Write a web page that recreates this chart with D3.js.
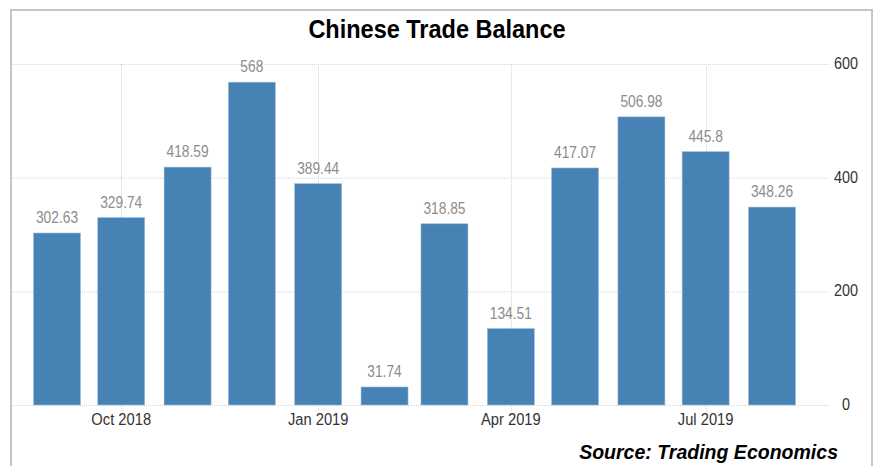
<!DOCTYPE html>
<html>
<head>
<meta charset="utf-8">
<script src="https://cdn.jsdelivr.net/npm/d3@7"></script>
<style>
  html, body { margin: 0; padding: 0; background: #fff; }
  svg { display: block; }
</style>
</head>
<body>
<svg id="chart" width="877" height="466"></svg>
<script>
// ---- data ----
const months = ["2018-09","2018-10","2018-11","2018-12","2019-01","2019-02","2019-03","2019-04","2019-05","2019-06","2019-07","2019-08"];
const values = [302.63, 329.74, 418.59, 568, 389.44, 31.74, 318.85, 134.51, 417.07, 506.98, 445.8, 348.26];
const valueLabels = ["302.63","329.74","418.59","568","389.44","31.74","318.85","134.51","417.07","506.98","445.8","348.26"];
const xTickMonths = ["2018-10","2019-01","2019-04","2019-07"];
const xTickLabels = ["Oct 2018","Jan 2019","Apr 2019","Jul 2019"];
const yTicks = [0, 200, 400, 600];
const titleText = "Chinese Trade Balance";
const sourceText = "Source: Trading Economics";

const parse = d3.timeParse("%Y-%m");
const dates = months.map(parse);
const FONT = "'Liberation Sans', Arial, sans-serif";

const svg = d3.select("#chart");

// outer frame (open at the bottom)
svg.append("path")
  .attr("d", "M11,466 L11,10 L872,10 L872,466")
  .attr("fill", "none")
  .attr("stroke", "#c6c6c6")
  .attr("stroke-width", 2);

const x = d3.scaleTime()
  .domain([dates[0], dates[dates.length - 1]])
  .range([57, 772]);
const y = d3.scaleLinear().domain([0, 600]).range([405, 64]);

const gridColor = "#d6d6d6";

// horizontal grid
svg.append("g").selectAll("line").data(yTicks).join("line")
  .attr("x1", 12).attr("x2", 830)
  .attr("y1", d => y(d) + 0.5).attr("y2", d => y(d) + 0.5)
  .attr("stroke", gridColor).attr("stroke-width", 1)
  .attr("stroke-dasharray", "1,1");

// vertical grid
const tickDates = xTickMonths.map(parse);
svg.append("g").selectAll("line").data(tickDates).join("line")
  .attr("x1", d => Math.round(x(d)) + 0.5).attr("x2", d => Math.round(x(d)) + 0.5)
  .attr("y1", 64).attr("y2", 411)
  .attr("stroke", gridColor).attr("stroke-width", 1)
  .attr("stroke-dasharray", "1,1");

// bars
const bw = 47;
svg.append("g").selectAll("rect").data(values).join("rect")
  .attr("x", (d, i) => x(dates[i]) - bw / 2)
  .attr("y", d => y(d))
  .attr("width", bw)
  .attr("height", d => y(0) - y(d))
  .attr("fill", "#4682b4")
  .attr("stroke", "#9cc0de")
  .attr("stroke-width", 0.6);

// value labels (condensed look)
svg.append("g").selectAll("text").data(values).join("text")
  .attr("transform", (d, i) => `translate(${x(dates[i])},${y(d) - 10}) scale(0.86,1)`)
  .attr("text-anchor", "middle")
  .attr("font-family", FONT)
  .attr("font-size", 16)
  .attr("fill", "#8c8c8c")
  .text((d, i) => valueLabels[i]);

// x axis labels
svg.append("g").selectAll("text").data(tickDates).join("text")
  .attr("transform", d => `translate(${x(d)},425) scale(0.92,1)`)
  .attr("text-anchor", "middle")
  .attr("font-family", FONT)
  .attr("font-size", 16)
  .attr("fill", "#333")
  .text((d, i) => xTickLabels[i]);

// y axis labels
svg.append("g").selectAll("text").data(yTicks).join("text")
  .attr("transform", d => `translate(846,${y(d) + 5}) scale(0.9,1)`)
  .attr("text-anchor", "middle")
  .attr("font-family", FONT)
  .attr("font-size", 16)
  .attr("fill", "#333")
  .text(d => d);

// title
svg.append("text")
  .attr("transform", "translate(437,38) scale(0.94,1)")
  .attr("text-anchor", "middle")
  .attr("font-family", FONT)
  .attr("font-weight", "bold")
  .attr("font-size", 25)
  .attr("fill", "#000")
  .text(titleText);

// source
svg.append("text")
  .attr("transform", "translate(838,459) scale(0.93,1)")
  .attr("text-anchor", "end")
  .attr("font-family", FONT)
  .attr("font-weight", "bold")
  .attr("font-style", "italic")
  .attr("font-size", 21)
  .attr("fill", "#000")
  .text(sourceText);
</script>
</body>
</html>
